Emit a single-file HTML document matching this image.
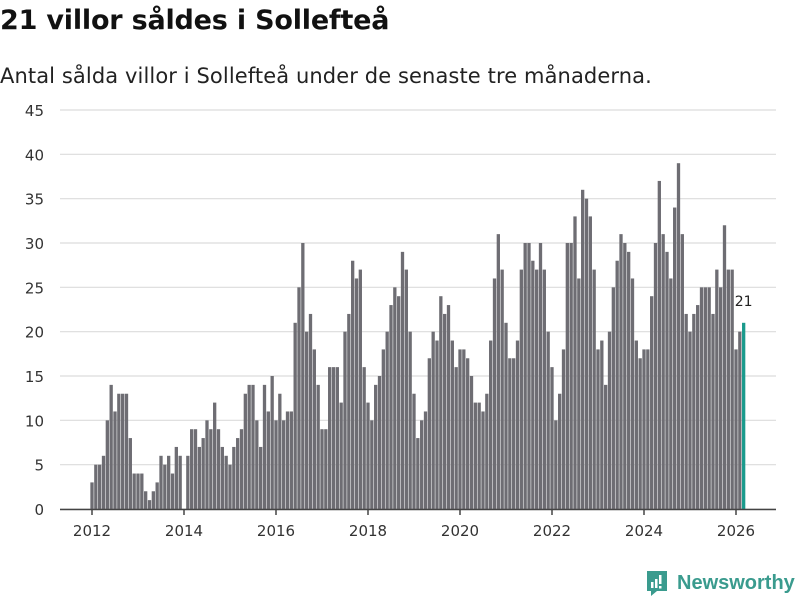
<!DOCTYPE html>
<html><head><meta charset="utf-8">
<style>
body{margin:0;width:800px;height:600px;background:#fff;font-family:"DejaVu Sans","Liberation Sans",sans-serif;overflow:hidden;position:relative}
#title{position:absolute;left:0;top:5px;font-size:27px;font-weight:bold;color:#111;margin:0;letter-spacing:-0.2px}
#sub{position:absolute;left:0;top:64px;font-size:21px;color:#222;letter-spacing:0.1px}
#logo{position:absolute;left:645px;top:569px;display:flex;align-items:center;color:#3a9b8e;font-size:20px;font-weight:bold;font-family:"Liberation Sans",sans-serif}
</style></head><body>
<h1 id="title">21 villor såldes i Sollefteå</h1>
<div id="sub">Antal sålda villor i Sollefteå under de senaste tre månaderna.</div>
<svg id="chart" width="800" height="600" style="position:absolute;left:0;top:0"></svg>
<div id="logo">
<svg width="24" height="28" viewBox="0 0 24 28" style="margin-right:8px"><path d="M2 2h20v20H12l-6 5v-5H2z" fill="#3a9b8e"/><rect x="6" y="13" width="2.5" height="6" fill="#fff"/><rect x="10" y="10" width="2.5" height="9" fill="#fff"/><rect x="14" y="6" width="2.5" height="9" fill="#fff"/><rect x="14" y="17" width="2.5" height="2.5" fill="#fff"/></svg>Newsworthy</div>
<script>
const years=[2012,2013,2014,2015,2016,2017,2018,2019,2020,2021,2022,2023,2024,2025,2026];
const values=[3,5,5,6,10,14,11,13,13,13,8,4,
4,4,2,1,2,3,6,5,6,4,7,6,
0,6,9,9,7,8,10,9,12,9,7,6,
5,7,8,9,13,14,14,10,7,14,11,15,
10,13,10,11,11,21,25,30,20,22,18,14,
9,9,16,16,16,12,20,22,28,26,27,16,
12,10,14,15,18,20,23,25,24,29,27,20,
13,8,10,11,17,20,19,24,22,23,19,16,
18,18,17,15,12,12,11,13,19,26,31,27,
21,17,17,19,27,30,30,28,27,30,27,20,
16,10,13,18,30,30,33,26,36,35,33,27,
18,19,14,20,25,28,31,30,29,26,19,17,
18,18,24,30,37,31,29,26,34,39,31,22,
20,22,23,25,25,25,22,27,25,32,27,27,
18,20,21];
const yTicks=[0,5,10,15,20,25,30,35,40,45];
const xTicks=[2012,2014,2016,2018,2020,2022,2024,2026];
const NS='http://www.w3.org/2000/svg';
const svg=document.getElementById('chart');
const y=v=>509-v*(399/45);
const x=i=>92+i*(46/12);
function mk(t,a){const e=document.createElementNS(NS,t);for(const k in a)e.setAttribute(k,a[k]);svg.appendChild(e);return e;}
yTicks.forEach(t=>{
 const g=mk('line',{x1:60,x2:776,y1:y(t),y2:y(t),stroke:'#dcdcdc','stroke-width':1.2});
 
 
 const l=mk('text',{x:44,y:y(t)+6,'text-anchor':'end','font-size':15,fill:'#333'});
 l.textContent=t;
 
 
});
values.forEach((v,i)=>{
 const last=i===values.length-1;
 const r=mk('rect',{x:x(i)-1.65,y:y(v),width:3.3,height:509-y(v),fill:last?'#1a9a8c':'#6e6d73'});
 
 
 if(last){const t=mk('text',{x:x(i),y:y(v)-17,'text-anchor':'middle','font-size':14,fill:'#222'});t.textContent=v;
 
 }
});
const ax=mk('line',{x1:60,x2:776,y1:509.5,y2:509.5,stroke:'#444','stroke-width':1.5});


xTicks.forEach(yr=>{
 const i=(yr-years[0])*12;
 const tk=mk('line',{x1:x(i),x2:x(i),y1:509,y2:515,stroke:'#444','stroke-width':1.5});
 
 
 const l=mk('text',{x:x(i),y:536,'text-anchor':'middle','font-size':15,fill:'#333'});
 l.textContent=yr;
 
 
});
</script>
</body></html>
